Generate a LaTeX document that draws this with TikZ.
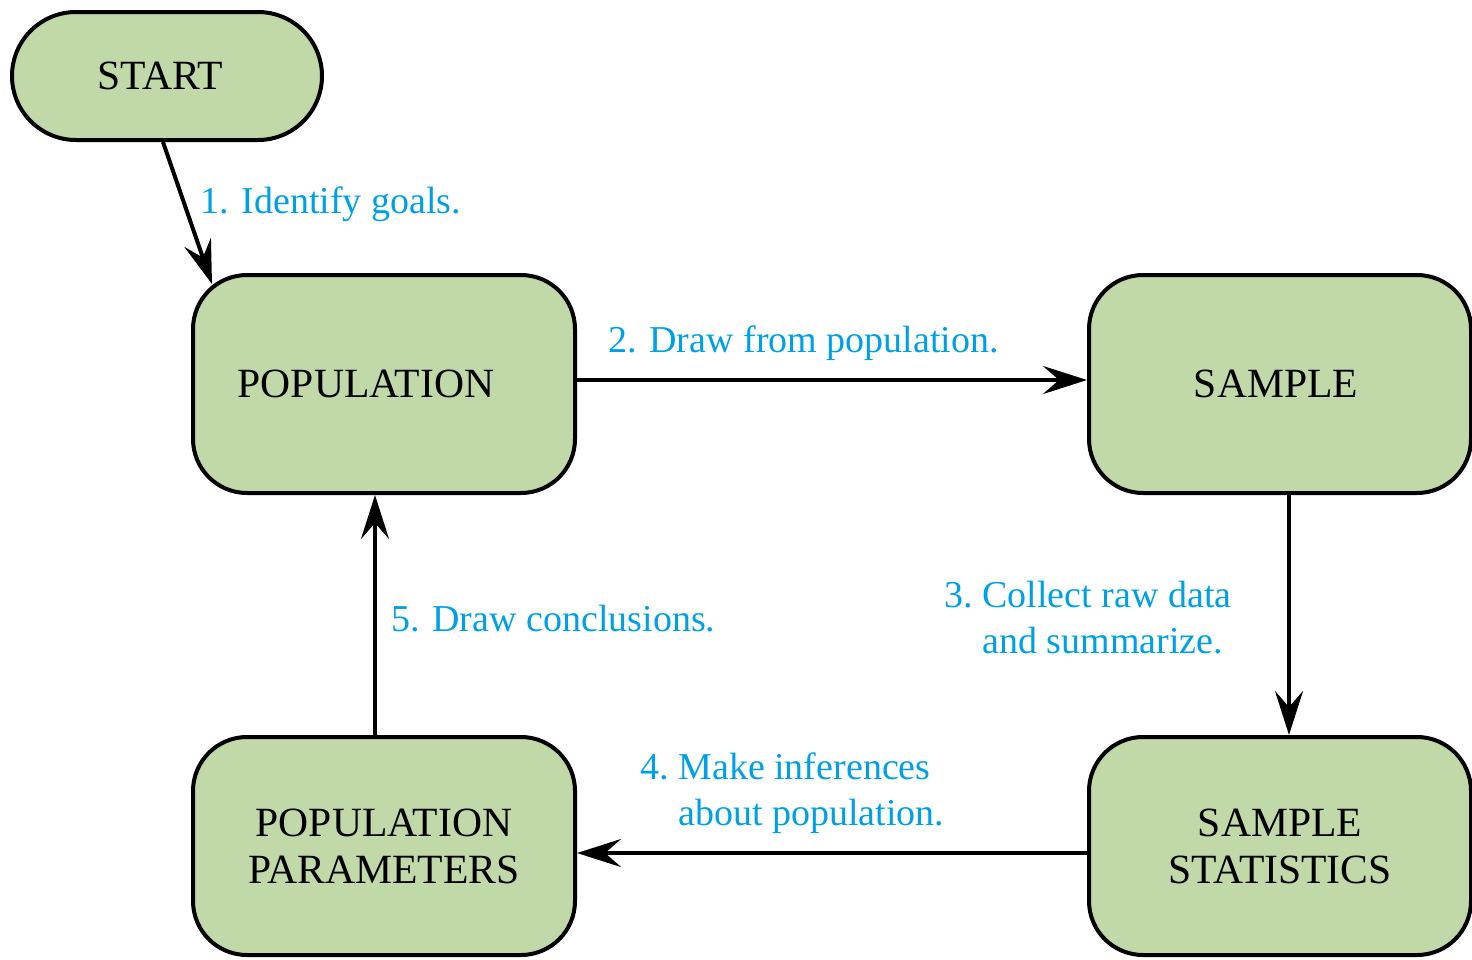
\documentclass[tikz,border=0pt]{standalone}
\usepackage{fontspec}
\setmainfont{Liberation Serif}
\usetikzlibrary{arrows.meta}
\definecolor{boxgreen}{RGB}{193,216,168}
\definecolor{labelblue}{RGB}{0,160,233}
\tikzset{
  box/.style={draw=black, line width=2pt, fill=boxgreen, rounded corners=27pt,
    minimum width=191pt, minimum height=109pt, inner sep=0pt, align=center,
    font=\fontsize{20.8}{23.5}\selectfont},
  startbox/.style={box, rounded corners=32pt, minimum width=155pt, minimum height=64pt},
  conn/.style={line width=2pt, -{Stealth[length=22pt,width=14pt,inset=8pt]}},
  lbl/.style={text=labelblue, font=\fontsize{19}{23}\selectfont, inner sep=0pt, anchor=base west}
}
\begin{document}
\begin{tikzpicture}[x=0.5pt,y=-0.5pt]
\useasboundingbox (0,0) rectangle (1472,959);
\node[startbox] (start) at (167,76) {START\hspace{7pt}};
\node[box] (pop) at (384,384) {POPULATION\hspace{18pt}};
\node[box] (sample) at (1280,384) {SAMPLE\hspace{4pt}};
\node[box] (params) at (384,846) {POPULATION\\PARAMETERS};
\node[box] (stats) at (1280,846) {SAMPLE\\STATISTICS};
\coordinate (p1) at (212,284);
\draw[conn] ([xshift=-2pt]start.south) -- (p1);
\draw[conn] ([yshift=2pt]pop.east) -- ([yshift=2pt]sample.west);
\draw[conn] ([xshift=4.5pt]sample.south) -- ([xshift=4.5pt]stats.north);
\draw[conn] ([yshift=-3.5pt]stats.west) -- ([yshift=-3.5pt]params.east);
\draw[conn] ([xshift=-4.5pt]params.north) -- ([xshift=-4.5pt]pop.south);
\node[lbl] (l1) at (200,213) {1. Identify goals.};
\node[lbl] (l2) at (608,352) {2. Draw from population.};
\node[lbl] (l3) at (944,607) {3.~\begin{tabular}[t]{@{}l@{}}Collect raw data\\and summarize.\end{tabular}};
\node[lbl] (l4) at (640,779) {4.~\begin{tabular}[t]{@{}l@{}}Make inferences\\about population.\end{tabular}};
\node[lbl] (l5) at (391,631) {5. Draw conclusions.};
\end{tikzpicture}
\end{document}
